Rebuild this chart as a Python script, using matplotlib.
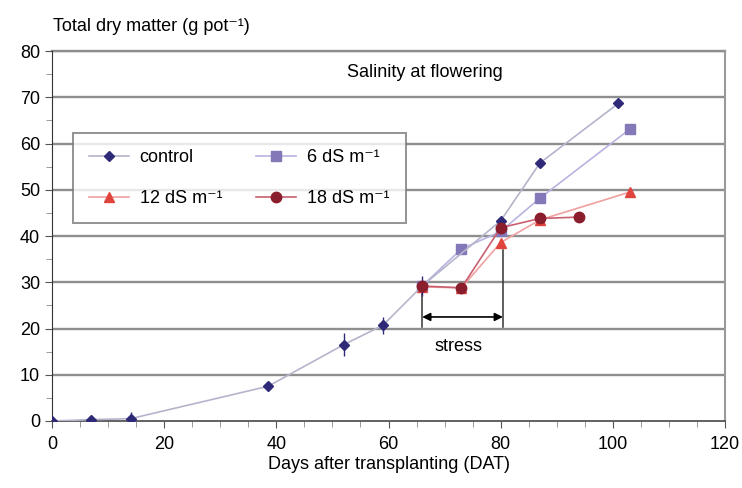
import matplotlib
matplotlib.use("Agg")
import matplotlib.pyplot as plt
from matplotlib.ticker import MultipleLocator
from matplotlib.lines import Line2D

plt.rcParams['font.family'] = ['Liberation Sans', 'DejaVu Sans']

# Data
ctrl_x = [0, 7, 14, 38.5, 52, 59, 66, 80, 87, 101]
ctrl_y = [0, 0.3, 0.5, 7.5, 16.5, 20.7, 29.2, 43.3, 55.8, 68.7]
ctrl_err = [0, 0, 1.5, 0, 2.5, 1.8, 2.2, 0, 0, 0]

s6_x = [66, 73, 80, 87, 103]
s6_y = [29.2, 37.2, 41.0, 48.2, 63.1]

s12_x = [66, 73, 80, 87, 103]
s12_y = [29.0, 28.8, 38.6, 43.5, 49.5]

s18_x = [66, 73, 80, 87, 94]
s18_y = [29.2, 28.8, 41.8, 43.8, 44.1]

xticks = [0, 20, 40, 60, 80, 100, 120]
yticks = [0, 10, 20, 30, 40, 50, 60, 70, 80]

stress_start, stress_end = 66, 80.4

fig = plt.figure(figsize=(7.42, 4.88), dpi=100)
ax = fig.add_axes([0.0701, 0.1373, 0.907, 0.758])

grid_c = '#8e8e8e'
for y in yticks[1:]:
    ax.axhline(y, color=grid_c, lw=1.7, zorder=1)

c_ctrl = '#2e2a78'
c_6 = '#8478b8'
c_12 = '#e0443c'
c_18 = '#8a1e2c'

ctrl_style = dict(color='#b4b4cc', lw=1.2, marker='D', ms=5.5, mfc=c_ctrl, mec=c_ctrl)
ax.errorbar(ctrl_x, ctrl_y, yerr=ctrl_err, ecolor=c_ctrl,
            elinewidth=1, capsize=0, zorder=4, **ctrl_style)
h_ctrl = Line2D([], [], **ctrl_style)
h6, = ax.plot(s6_x, s6_y, color='#b8b4e0', lw=1.2, marker='s', ms=6.5,
              mfc=c_6, mec=c_6, zorder=3)
h12, = ax.plot(s12_x, s12_y, color='#f0a0a0', lw=1.2, marker='^', ms=7.5,
               mfc=c_12, mec=c_12, zorder=3)
h18, = ax.plot(s18_x, s18_y, color='#c86070', lw=1.2, marker='o', ms=7.5,
               mfc=c_18, mec=c_18, zorder=5)

# stress annotation
ax.plot([stress_start, stress_start], [20.3, 29.0], color='#333333', lw=1.1, zorder=2)
ax.plot([stress_end, stress_end], [20.3, 37.0], color='#333333', lw=1.1, zorder=2)
ax.annotate('', xy=(stress_start, 22.5), xytext=(stress_end, 22.5),
            arrowprops=dict(arrowstyle='<|-|>', color='black', lw=1.2,
                            mutation_scale=12, shrinkA=0, shrinkB=0), zorder=2)
ax.text(72.4, 16.2, 'stress', fontsize=13, ha='center', va='center')
ax.text(66.5, 75.3, 'Salinity at flowering', fontsize=13, ha='center', va='center')

ax.set_xlim(0, 120)
ax.set_ylim(0, 80)
ax.set_xticks(xticks)
ax.set_yticks(yticks)
ax.xaxis.set_minor_locator(MultipleLocator(5))
ax.yaxis.set_minor_locator(MultipleLocator(5))
ax.tick_params(axis='both', which='major', labelsize=13, direction='out',
               length=5, color='#555555')
ax.tick_params(axis='both', which='minor', direction='out', length=4, color='#888888')
ax.tick_params(axis='x', pad=6)

ax.spines['top'].set_visible(False)
ax.spines['right'].set_color('#9a9a9a')
ax.spines['right'].set_linewidth(1.5)
ax.spines['left'].set_color('#333333')
ax.spines['bottom'].set_color('#555555')
ax.spines['bottom'].set_linewidth(1.3)
ax.axhline(80, color=grid_c, lw=1.7, zorder=1, clip_on=False)

ax.set_xlabel('Days after transplanting (DAT)', fontsize=13, labelpad=2)
fig.text(0.071, 0.945, 'Total dry matter (g pot⁻¹)', fontsize=13, ha='left', va='center')

handles = [h_ctrl, h12, h6, h18]
labels = ['control', '12 dS m⁻¹', '6 dS m⁻¹', '18 dS m⁻¹']
leg = ax.legend(handles, labels, ncol=2, loc='upper left', bbox_to_anchor=(0.031, 0.778),
                fontsize=13, frameon=True, fancybox=False, edgecolor='#777777',
                handlelength=2.2, handletextpad=0.6, columnspacing=1.9,
                labelspacing=1.3, borderpad=0.9, borderaxespad=0)
leg.get_frame().set_linewidth(1.4)
leg.set_zorder(6)

fig.savefig('out.png', dpi=100)
